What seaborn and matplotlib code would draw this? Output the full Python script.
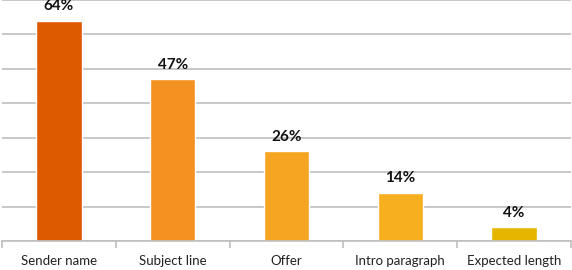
import matplotlib
matplotlib.use("Agg")
import matplotlib.pyplot as plt
import seaborn as sns
import pandas as pd

categories = ["Sender name", "Subject line", "Offer", "Intro paragraph", "Expected length"]
values = [64, 47, 26, 14, 4]
colors = ["#DD5A00", "#F39121", "#F5A521", "#F8AF1F", "#E5B500"]

sns.set_theme(style="white")
plt.rcParams['font.family'] = ['Lato', 'DejaVu Sans']

df = pd.DataFrame({"cat": categories, "val": values})
fig = plt.figure(figsize=(5.72, 2.70), dpi=100)
ax = fig.add_axes([2/572, 29/270, 569/572, 241/270])
sns.barplot(data=df, x="cat", y="val", hue="cat", palette=colors, width=0.4,
            legend=False, ax=ax, saturation=1)
ax.set_ylim(0, 70)
ax.set_xlim(-0.5, 4.5)
ax.set_yticks(range(0, 71, 10))
ax.yaxis.grid(True, color="#BFBFBF", linewidth=1.2)
ax.set_axisbelow(True)
ax.tick_params(axis="y", left=False, labelleft=False)
ax.set_xticks([x + 0.5 for x in range(-1, 5)], minor=True)
ax.tick_params(axis="x", which="minor", bottom=True, length=5, color="#BFBFBF", width=1.2)
ax.tick_params(axis="x", which="major", bottom=False, length=0, labelsize=9.5,
               labelcolor="#222222", pad=10)
for s in ["top", "right", "left"]:
    ax.spines[s].set_visible(False)
ax.spines["bottom"].set_color("#BFBFBF")
ax.spines["bottom"].set_linewidth(1.2)
ax.set_xlabel("")
ax.set_ylabel("")
for i, v in enumerate(values):
    ax.annotate(f"{v}%", (i, v), xytext=(0, 5.5), textcoords="offset points",
                ha="center", va="bottom", fontsize=11, fontweight="bold",
                color="#111111", annotation_clip=False)
fig.savefig("out.png", dpi=100)
